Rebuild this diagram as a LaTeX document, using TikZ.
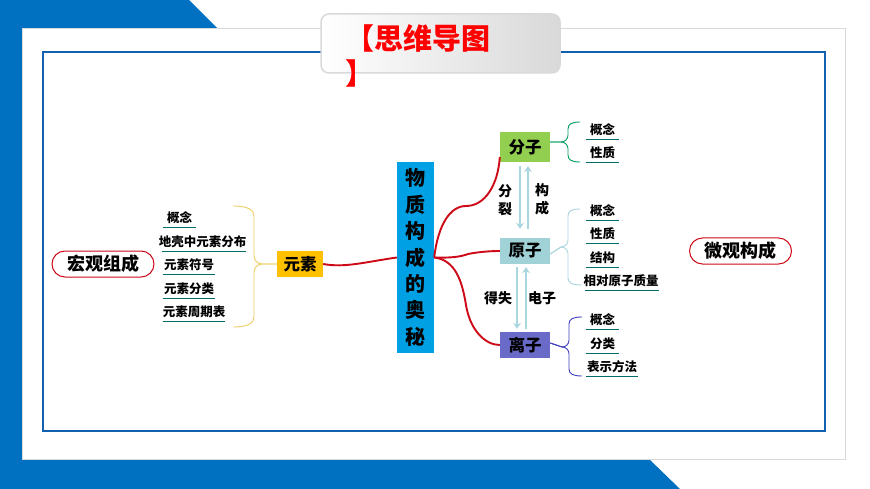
\documentclass[tikz,border=0pt]{standalone}
\usepackage{fontspec}
\setmainfont{Noto Sans CJK SC}
\usepackage{tikz}
\usetikzlibrary{arrows.meta,positioning,shapes,calc}
\definecolor{frameblue}{RGB}{0,112,192}
\definecolor{lineblue}{RGB}{18,96,176}
\definecolor{topicblue}{RGB}{0,160,228}
\definecolor{linkred}{RGB}{206,10,24}
\definecolor{arrowblue}{RGB}{170,214,224}
\definecolor{fenzigreen}{RGB}{146,206,80}
\definecolor{yuanzicyan}{RGB}{160,210,216}
\definecolor{lizipurple}{RGB}{106,106,200}
\definecolor{yuansugold}{RGB}{255,192,0}
\definecolor{braceyellow}{RGB}{240,205,100}
\tikzset{
    side/.style={draw=linkred, line width=1pt, fill=white, rounded corners=13pt, minimum width=102pt, minimum height=26pt, inner sep=0pt, font=\fontsize{18}{18}\selectfont\bfseries},
    topic/.style={minimum width=50pt, minimum height=30pt, inner sep=0pt, font=\fontsize{16.5}{16.5}\selectfont\bfseries},
    leaf/.style={inner sep=0pt, minimum height=18pt, font=\fontsize{12.5}{12.5}\selectfont\bfseries,
        append after command={(\tikzlastnode.south west) edge[draw=teal!85!black, line width=0.8pt] (\tikzlastnode.south east)}},
    word/.style={inner sep=0pt, align=center, font=\fontsize{14}{18}\selectfont\bfseries},
    redlink/.style={draw=linkred, line width=1.9pt},
    swap/.style={draw=arrowblue, line width=2.8pt, -{Stealth[length=6pt,width=8pt]}},
}
\begin{document}
\begin{tikzpicture}[x=1pt,y=-1pt]
    \useasboundingbox (0,0) rectangle (870,489);
    \fill [white] (0,0) rectangle (870,489);
    % frame
    \fill [frameblue] (0,0) -- (189,0) -- (217,28) -- (217,459) -- (649,459) -- (680,489) -- (0,489) -- cycle;
    \draw [draw=black!15, fill=white] (22,28) rectangle (845,459);
    \draw [draw=lineblue, line width=1.3pt] (43,52) rectangle (825,431);
    \node (titlebox) [draw=black!15, line width=1.5pt, rounded corners=8pt, left color=white, right color=black!15, minimum width=239pt, minimum height=59pt, inner sep=0pt] at (440.5,43.5) {};
    \node (titletext) [anchor=north west, inner sep=0pt, align=left, text=red, font=\fontsize{29}{35}\selectfont\bfseries] at (345,24) {【思维导图\\】};

    % left side
    \node (macro) [side] at (103,264) {宏观组成};
    \node (gainian) [leaf, minimum width=33pt] at (179.5,218) {概念};
    \node (fenbu) [leaf] at (204,242) {\hspace{-3pt}地壳中元素分布\hspace{-3pt}};
    \node (fuhao) [leaf, minimum width=52pt] at (189,265) {元素符号};
    \node (fenlei) [leaf, minimum width=52pt] at (189,289) {元素分类};
    \node (zhouqi) [leaf, minimum width=62pt] at (194,312) {元素周期表};
    \node (yuansu) [topic, fill=yuansugold, minimum width=46pt, minimum height=26pt] at (300,264) {元素};
    \coordinate (ystop) at (233,206);
    \coordinate (ysbot) at (233,327);
    \draw [draw=braceyellow, line width=0.9pt] (yuansu.west) -- (262,264) .. controls (257,264) and (254,260) .. (254,255) -- (254,216) .. controls (254,210) and (248,206) .. (ystop);
    \draw [draw=braceyellow, line width=0.9pt] (yuansu.west) -- (262,264) .. controls (257,264) and (254,268) .. (254,273) -- (254,317) .. controls (254,323) and (248,327) .. (ysbot);

    % centre
    \node (centre) [fill=topicblue, minimum width=37pt, minimum height=191pt, inner sep=0pt, align=center, font=\fontsize{20}{26.4}\selectfont\bfseries] at (415.5,257.5) {物\\质\\构\\成\\的\\奥\\秘};
    \node (fenzi) [topic, fill=fenzigreen] at (525,147) {分子};
    \node (yuanzi) [topic, fill=yuanzicyan, minimum height=26pt] at (525,251) {原子};
    \node (lizi) [topic, fill=lizipurple, minimum height=26pt] at (525,345) {离子};
    \coordinate (hub) at (centre.east);
    \draw [redlink] (yuansu.east) .. controls (345,268) and (365,262) .. (centre.west);
    \draw [redlink] (hub) .. controls (438,225) and (450,206) .. (466,206) .. controls (485,206) and (498,185) .. ([yshift=-10pt]fenzi.west);
    \draw [redlink] (hub) .. controls (450,258) and (460,257) .. (468,254) .. controls (478,252) and (490,251) .. (yuanzi.west);
    \draw [redlink] (hub) .. controls (455,260) and (462,280) .. (466,305) .. controls (470,330) and (485,345) .. (lizi.west);

    % arrows between the topics
    \draw [swap] ([xshift=-5pt,yshift=-4pt]fenzi.south) -- ([xshift=-5pt,yshift=9pt]yuanzi.north);
    \draw [swap] ([xshift=3pt,yshift=9pt]yuanzi.north) -- ([xshift=3pt,yshift=-4pt]fenzi.south);
    \draw [swap] ([xshift=-8pt,yshift=-3pt]yuanzi.south) -- ([xshift=-8pt,yshift=3pt]lizi.north);
    \draw [swap] ([xshift=1pt,yshift=3pt]lizi.north) -- ([xshift=1pt,yshift=-3pt]yuanzi.south);
    \node (fenlie) [word] at (505,200) {分\\裂};
    \node (goucheng) [word] at (542,199) {构\\成};
    \node (deshi) [word] at (498,298) {得失};
    \node (dianzi) [word] at (542,298) {电子};

    % right side
    \node (micro) [side] at (740.5,251) {微观构成};
    \node (fzgn) [leaf, minimum width=33pt] at (602.5,130) {概念};
    \node (fzxz) [leaf, minimum width=33pt] at (602.5,153) {性质};
    \coordinate (fztop) at (580,122);
    \coordinate (fzbot) at (580,162);
    \draw [draw=teal!75!green, line width=0.9pt] ([yshift=5pt]fenzi.east) -- (561,142) .. controls (565,142) and (568,139) .. (568,135) -- (568,129) .. controls (568,124) and (572,122) .. (fztop);
    \draw [draw=teal!75!green, line width=0.9pt] ([yshift=5pt]fenzi.east) -- (561,142) .. controls (565,142) and (568,145) .. (568,149) -- (568,155) .. controls (568,160) and (572,162) .. (fzbot);

    \node (yzgn) [leaf, minimum width=33pt] at (602.5,211) {概念};
    \node (yzxz) [leaf, minimum width=33pt] at (602.5,234) {性质};
    \node (yzjg) [leaf, minimum width=33pt] at (602.5,258) {结构};
    \node (yzzl) [leaf, minimum width=72pt] at (622,281) {\hspace{-2pt}相对原子质量\hspace{-2pt}};
    \coordinate (yztop) at (580,209);
    \coordinate (yzbot) at (582,285);
    \draw [draw=arrowblue, line width=0.9pt] ([yshift=-3pt]yuanzi.east) -- (561,247) .. controls (565,247) and (568,244) .. (568,240) -- (568,216) .. controls (568,211) and (572,209) .. (yztop);
    \draw [draw=arrowblue, line width=0.9pt] ([yshift=-3pt]yuanzi.east) -- (561,247) .. controls (565,247) and (568,250) .. (568,254) -- (568,278) .. controls (568,283) and (572,285) .. (yzbot);

    \node (lzgn) [leaf, minimum width=33pt] at (602.5,320) {概念};
    \node (lzfl) [leaf, minimum width=33pt] at (602.5,344) {分类};
    \node (lzbs) [leaf, minimum width=52pt] at (612,367) {表示方法};
    \coordinate (lztop) at (582,317);
    \coordinate (lzbot) at (582,376);
    \draw [draw=blue!50!gray, line width=0.9pt] ([yshift=2pt]lizi.east) -- (562,347) .. controls (566,347) and (569,344) .. (569,340) -- (569,324) .. controls (569,319) and (573,317) .. (lztop);
    \draw [draw=blue!50!gray, line width=0.9pt] ([yshift=2pt]lizi.east) -- (562,347) .. controls (566,347) and (569,350) .. (569,354) -- (569,369) .. controls (569,374) and (573,376) .. (lzbot);
\end{tikzpicture}
\end{document}
